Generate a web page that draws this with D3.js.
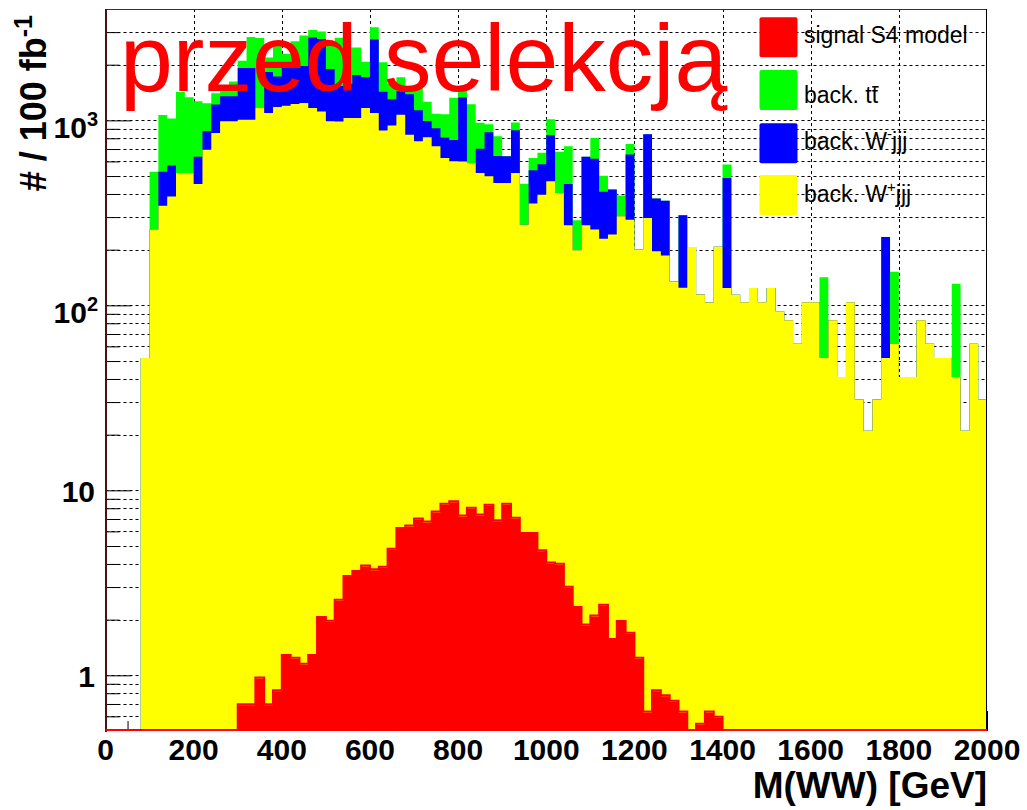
<!DOCTYPE html>
<html>
<head>
<meta charset="utf-8">
<script src="https://cdn.jsdelivr.net/npm/d3@7"></script>
<style>
  html, body { margin: 0; padding: 0; background: #fff; }
  svg { display: block; }
  text { font-family: "Liberation Sans", Arial, Helvetica, sans-serif; }
</style>
</head>
<body>
<svg id="chart" width="1027" height="810"></svg>
<script>
// ---- histogram binning: lower edges of the 20 GeV bins in M(WW) ----
const binLowEdges = [
  0, 20, 40, 60, 80, 100, 120, 140, 160, 180,
  200, 220, 240, 260, 280, 300, 320, 340, 360, 380,
  400, 420, 440, 460, 480, 500, 520, 540, 560, 580,
  600, 620, 640, 660, 680, 700, 720, 740, 760, 780,
  800, 820, 840, 860, 880, 900, 920, 940, 960, 980,
  1000, 1020, 1040, 1060, 1080, 1100, 1120, 1140, 1160, 1180,
  1200, 1220, 1240, 1260, 1280, 1300, 1320, 1340, 1360, 1380,
  1400, 1420, 1440, 1460, 1480, 1500, 1520, 1540, 1560, 1580,
  1600, 1620, 1640, 1660, 1680, 1700, 1720, 1740, 1760, 1780,
  1800, 1820, 1840, 1860, 1880, 1900, 1920, 1940, 1960, 1980
];

// ---- events per bin, 100 fb^-1 ----
const signalS4 = [
  0, 0, 0, 0, 0, 0, 0, 0, 0, 0,
  0, 0, 0, 0, 0, 0.69, 0.69, 0.96, 0.69, 0.82,
  1.27, 1.23, 1.14, 1.27, 2.04, 1.95, 2.53, 3.40, 3.62, 3.88,
  3.70, 3.81, 4.78, 6.18, 6.38, 6.95, 6.71, 7.60, 8.37, 8.61,
  7.23, 7.96, 7.32, 8.26, 6.80, 8.37, 7.03, 5.81, 5.81, 4.68,
  4.02, 3.96, 2.97, 2.31, 1.86, 2.08, 2.38, 1.55, 1.94, 1.68,
  1.23, 0.63, 0.82, 0.77, 0.72, 0.63, 0, 0.54, 0.63, 0.59,
  0, 0, 0, 0, 0, 0, 0, 0, 0, 0,
  0, 0, 0, 0, 0, 0, 0, 0, 0, 0,
  0, 0, 0, 0, 0, 0, 0, 0, 0, 0
];

const wPlusJjj = [
  0, 0, 0, 0, 52, 257, 346, 388, 520, 520,
  453, 694, 855, 988, 988, 1008, 1008, 1166, 1096, 1181,
  1200, 1225, 1241, 1166, 1116, 986, 985, 1027, 1027, 1163,
  1093, 879, 932, 1067, 831, 763, 803, 716, 618, 592,
  593, 581, 512, 490, 452, 450, 513, 267, 349, 392,
  464, 401, 268, 196, 269, 255, 227, 240, 301, 289,
  199, 296, 195, 185, 134, 124, 207, 114, 103, 207,
  124, 114, 104, 124, 104, 124, 93, 83, 62, 104,
  104, 52, 83, 41, 104, 31, 21, 31, 52, 62,
  41, 41, 83, 62, 52, 52, 41, 21, 62, 31
];

const wMinusJjj = [
  0, 0, 0, 0, 0, 0, 182, 182, 0, 0,
  182, 182, 364, 364, 364, 910, 910, 0, 728, 546,
  728, 728, 728, 1638, 1638, 910, 546, 546, 728, 546,
  1638, 546, 364, 364, 546, 364, 182, 182, 182, 182,
  728, 0, 182, 364, 182, 182, 364, 0, 182, 182,
  364, 0, 182, 0, 364, 364, 182, 182, 0, 364,
  0, 546, 182, 182, 0, 182, 0, 0, 0, 0,
  364, 0, 0, 0, 0, 0, 0, 0, 0, 0,
  0, 0, 0, 0, 0, 0, 0, 0, 182, 0,
  0, 0, 0, 0, 0, 0, 0, 0, 0, 0
];

const ttbarBack = [
  0, 0, 0, 0, 0, 271, 542, 452, 903, 813,
  632, 361, 181, 90, 271, 181, 903, 1625, 361, 813,
  361, 722, 903, 271, 271, 722, 1264, 903, 722, 361,
  452, 632, 271, 271, 90, 361, 271, 181, 271, 542,
  181, 632, 271, 90, 181, 0, 90, 181, 90, 90,
  181, 271, 271, 90, 0, 181, 90, 0, 90, 90,
  0, 0, 0, 0, 0, 0, 0, 0, 0, 0,
  90, 0, 0, 0, 0, 0, 0, 0, 0, 0,
  0, 90, 0, 0, 0, 0, 0, 0, 0, 90,
  0, 0, 0, 0, 0, 0, 90, 0, 0, 0
];

// ---- axes, labels, legend ----
const xTickLabels = [0, 200, 400, 600, 800, 1000, 1200, 1400, 1600, 1800, 2000];
const yDecadeTicks = [
  { value: 1, base: "1", sup: "" },
  { value: 10, base: "10", sup: "" },
  { value: 100, base: "10", sup: "2" },
  { value: 1000, base: "10", sup: "3" }
];
const legendKeys = ["signal", "ttbar", "wMinus", "wPlus"];
const legendColors = ["#ff0000", "#00ff00", "#0000ff", "#ffff00"];
const titleText = "przed selekcją";
const xTitle = "M(WW) [GeV]";

// ---- geometry ----
const W = 1027, H = 810;
const plot = { left: 105.5, right: 987, top: 9, bottom: 731 };

const x = d3.scaleLinear().domain([0, 2000]).range([plot.left, plot.right]);
const y = d3.scaleLog().domain([0.5, 4000]).range([plot.bottom, plot.top]);
const yMin = y.domain()[0];
const yv = v => (v > yMin ? y(v) : y(yMin));

const svg = d3.select("#chart");
svg.append("rect").attr("width", W).attr("height", H).attr("fill", "#fff");

// ---- dotted grid ----
const yGridValues = [];
for (let e = -1; e <= 3; e++) {
  for (let m = 1; m <= 9; m++) {
    const v = +(m * Math.pow(10, e)).toPrecision(6);
    if (v > y.domain()[0] && v < y.domain()[1]) yGridValues.push(v);
  }
}
const xGridValues = xTickLabels.filter(v => v > 0 && v < 2000);

const grid = svg.append("g")
  .attr("stroke", "#000").attr("stroke-width", 1)
  .attr("stroke-dasharray", "3,3").attr("fill", "none");
grid.selectAll("line.h").data(yGridValues).join("line")
  .attr("class", "h")
  .attr("x1", plot.left).attr("x2", plot.right)
  .attr("y1", d => Math.round(y(d)) + 0.5).attr("y2", d => Math.round(y(d)) + 0.5);
grid.selectAll("line.v").data(xGridValues).join("line")
  .attr("class", "v")
  .attr("y1", plot.top).attr("y2", plot.bottom)
  .attr("x1", d => Math.round(x(d)) + 0.5).attr("x2", d => Math.round(x(d)) + 0.5);

// ---- inward ticks (drawn below the filled histograms) ----
const yMajor = yDecadeTicks.map(d => d.value);
const yMinor = yGridValues.filter(v => !yMajor.includes(v));
function bareAxis(g) {
  g.select(".domain").remove();
  g.selectAll("text").remove();
  g.selectAll("line").attr("stroke", "#000").attr("stroke-width", 1);
}
svg.append("g").attr("transform", `translate(${plot.left},0)`)
  .call(d3.axisLeft(y).tickValues(yMajor).tickSize(-26).tickFormat(""))
  .call(bareAxis);
svg.append("g").attr("transform", `translate(${plot.left},0)`)
  .call(d3.axisLeft(y).tickValues(yMinor).tickSize(-14).tickFormat(""))
  .call(bareAxis);
const xMinorTicks = d3.range(50, 2000, 50).filter(v => v % 200 !== 0);
svg.append("g").attr("transform", `translate(0,${plot.bottom})`)
  .call(d3.axisBottom(x).tickValues(xTickLabels).tickSize(-20).tickFormat(""))
  .call(bareAxis);
svg.append("g").attr("transform", `translate(0,${plot.bottom})`)
  .call(d3.axisBottom(x).tickValues(xMinorTicks).tickSize(-10).tickFormat(""))
  .call(bareAxis);

// ---- stacked histograms: signal, W+jjj, W-jjj, ttbar (bottom to top) ----
const stackKeys = ["signal", "wPlus", "wMinus", "ttbar"];
const fillOf = { signal: "#ff0000", wPlus: "#ffff00", wMinus: "#0000ff", ttbar: "#00ff00" };
const rows = binLowEdges.map((lo, i) => ({
  lo,
  signal: signalS4[i],
  wPlus: wPlusJjj[i],
  wMinus: wMinusJjj[i],
  ttbar: ttbarBack[i]
}));
const layers = d3.stack().keys(stackKeys)(rows);

function stepPoints(layer) {
  const pts = layer.map((d, i) => ({ edge: binLowEdges[i], top: d[1] }));
  pts.push({ edge: x.domain()[1], top: layer[layer.length - 1][1] });
  return pts;
}
const histArea = d3.area()
  .curve(d3.curveStepAfter)
  .x(d => x(d.edge))
  .y0(y(yMin))
  .y1(d => yv(d.top));

// each layer is filled from the floor to its cumulative top; upper layers first
layers.slice().reverse().forEach(layer => {
  svg.append("path")
    .attr("d", histArea(stepPoints(layer)))
    .attr("fill", fillOf[layer.key]);
});

// ---- frame ----
const frame = svg.append("g").attr("fill", "none");
frame.append("line").attr("x1", plot.left).attr("x2", plot.right)
  .attr("y1", plot.top + 0.5).attr("y2", plot.top + 0.5)
  .attr("stroke", "#333").attr("stroke-width", 1);
frame.append("line").attr("x1", plot.right - 0.5).attr("x2", plot.right - 0.5)
  .attr("y1", plot.top).attr("y2", plot.bottom)
  .attr("stroke", "#000").attr("stroke-width", 1);
frame.append("line").attr("x1", plot.left + 0.5).attr("x2", plot.left + 0.5)
  .attr("y1", plot.top).attr("y2", plot.bottom + 1)
  .attr("stroke", "#4a1212").attr("stroke-width", 2);

// signal outline (runs along the floor where the signal is empty)
const signalLine = d3.line()
  .curve(d3.curveStepAfter)
  .x(d => x(d.edge))
  .y(d => yv(d.top) - 1);
svg.append("path")
  .attr("d", signalLine(stepPoints(layers[0])))
  .attr("fill", "none").attr("stroke", "#ff0000").attr("stroke-width", 2);

// ---- tick labels ----
const xLabels = svg.append("g")
  .attr("font-size", 30).attr("font-weight", "bold").attr("fill", "#000")
  .attr("text-anchor", "middle");
xLabels.selectAll("text").data(xTickLabels).join("text")
  .attr("x", d => x(d)).attr("y", 760)
  .text(d => d);

const yLabels = svg.append("g")
  .attr("font-size", 30).attr("font-weight", "bold").attr("fill", "#000")
  .attr("text-anchor", "end");
yDecadeTicks.forEach(t => {
  const ty = y(t.value);
  const txt = yLabels.append("text")
    .attr("x", t.sup ? 98 : 95)
    .attr("y", t.sup ? ty + 18 : ty + 12);
  txt.append("tspan").text(t.base);
  if (t.sup) {
    txt.append("tspan").attr("font-size", 20).attr("dy", -12).text(t.sup);
  }
});

// ---- axis titles ----
svg.append("text")
  .attr("x", plot.right).attr("y", 798)
  .attr("text-anchor", "end")
  .attr("font-size", 37).attr("font-weight", "bold")
  .text(xTitle);

const yTitle = svg.append("text")
  .attr("transform", "translate(46,15) rotate(-90)")
  .attr("text-anchor", "end")
  .attr("font-size", 36).attr("font-weight", "bold");
yTitle.append("tspan").text("# / 100 fb");
yTitle.append("tspan").attr("font-size", 25).attr("dy", -14).text("-1");

// ---- legend ----
const legend = svg.append("g");
const legendBoxX = 759.5, legendBoxW = 38, legendBoxH = 40;
const legendBoxTops = [17.3, 70, 123.3, 175];
const legendBaselines = [43.3, 103.3, 149, 201.7];
legendKeys.forEach((key, i) => {
  legend.append("rect")
    .attr("x", legendBoxX).attr("y", legendBoxTops[i])
    .attr("width", legendBoxW).attr("height", legendBoxH)
    .attr("rx", 2).attr("fill", legendColors[i]);
  const t = legend.append("text")
    .attr("x", 804).attr("y", legendBaselines[i])
    .attr("font-size", 23).attr("fill", "#000");
  if (key === "signal") {
    t.text("signal S4 model");
  } else if (key === "ttbar") {
    t.text("back. tt");
    const node = t.node();
    const n = node.getNumberOfChars();
    const x0 = node.getStartPositionOfChar(n - 1).x;
    const x1 = node.getEndPositionOfChar(n - 1).x;
    legend.append("line")
      .attr("x1", x0 + 0.5).attr("x2", x1 + 0.5)
      .attr("y1", legendBaselines[i] - 16.5).attr("y2", legendBaselines[i] - 16.5)
      .attr("stroke", "#000").attr("stroke-width", 1.6);
  } else {
    t.append("tspan").text("back. W");
    t.append("tspan").attr("font-size", 15).attr("dy", -10)
      .text(key === "wMinus" ? "-" : "+");
    t.append("tspan").attr("dy", 10).text("jjj");
  }
});

// ---- title ----
svg.append("text")
  .attr("x", 120).attr("y", 91)
  .attr("font-size", 95).attr("fill", "#ff0000")
  .text(titleText);
</script>
</body>
</html>
